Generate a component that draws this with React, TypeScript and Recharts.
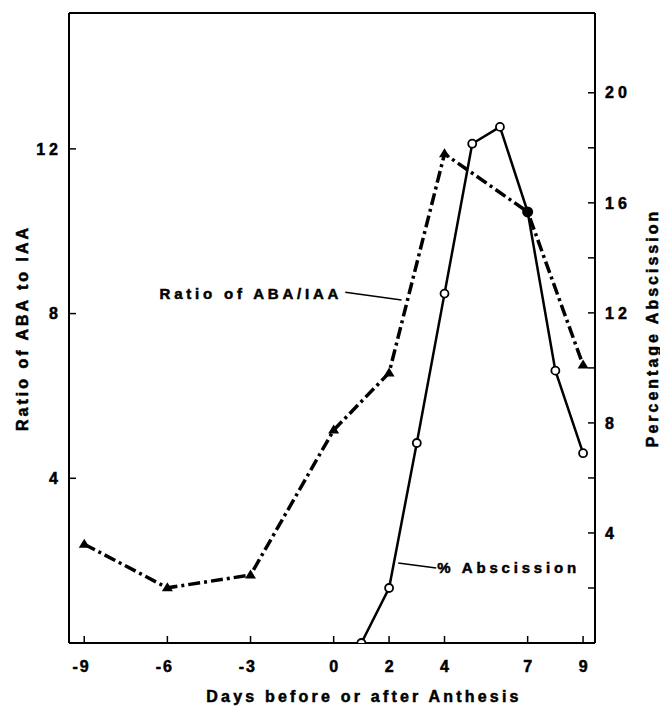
import { LineChart, Line, XAxis, YAxis, ReferenceLine, ReferenceDot, Label } from 'recharts';

// days before (-) or after (+) anthesis
const DAYS = [-9, -6, -3, 0, 1, 2, 3, 4, 5, 6, 7, 8, 9];
// ratio of ABA to IAA (left axis)
const RATIO = [2.4, 1.34, 1.65, 5.17, null, 6.56, null, 11.88, null, null, 10.47, null, 6.75];
// % abscission (right axis)
const ABSCISSION = [null, null, null, null, 0, 2.0, 7.27, 12.7, 18.15, 18.76, 15.67, 9.9, 6.9];

const X_TICKS = [-9, -6, -3, 0, 2, 4, 7, 9];
const RATIO_TICKS = [4, 8, 12];
const PCT_TICKS = [2, 4, 6, 8, 10, 12, 14, 16, 18, 20];
const RATIO_MAX = 15.3;
const PCT_MAX = 22.9;
const FILLED_DAY = 7;

// annotation anchors, in data units
const RATIO_NOTE = { x: 0.31, y: 8.5 };
const RATIO_LEADER = [{ x: 0.42, y: 8.52 }, { x: 2.45, y: 8.33 }];
const PCT_NOTE = { x: 3.74, y: 2.73 };
const PCT_LEADER = [{ x: 2.33, y: 2.91 }, { x: 3.7, y: 2.73 }];

const data = DAYS.map((day, i) => ({ day, ratio: RATIO[i], abscission: ABSCISSION[i] }));

const FONT = '"Liberation Sans", Arial, sans-serif';
const textStyle = { fill: '#000', fontFamily: FONT, fontWeight: 700, stroke: '#000', strokeWidth: 0.5 };

const TriangleDot = (props: any) => {
  const { cx, cy, payload, index } = props;
  if (cx == null || cy == null || payload?.ratio == null || payload.day === FILLED_DAY) {
    return <g key={`t-${index}`} />;
  }
  return <path key={`t-${index}`} d={`M${cx},${cy - 5.5}L${cx - 5.5},${cy + 3.5}L${cx + 5.5},${cy + 3.5}Z`} fill="#000" />;
};

const CircleDot = (props: any) => {
  const { cx, cy, payload, index } = props;
  if (cx == null || cy == null || payload?.abscission == null) return <g key={`c-${index}`} />;
  if (payload.day === FILLED_DAY) return <circle key={`c-${index}`} cx={cx} cy={cy} r={5.5} fill="#000" />;
  return <circle key={`c-${index}`} cx={cx} cy={cy} r={4} fill="#fff" stroke="#000" strokeWidth={1.8} />;
};

const XTick = ({ x, y, payload }: any) => (
  <text x={x + 6.5} y={y} dy="0.71em" textAnchor="end" fontSize={16} letterSpacing={2} {...textStyle}>
    {String(payload.value)}
  </text>
);

const vertTitle = (text: string, dxFromBox: number) => (p: any) => {
  const vb = p.viewBox;
  const x = vb.x + dxFromBox;
  const y = vb.y + vb.height / 2;
  return (
    <text x={x} y={y} transform={`rotate(-90, ${x}, ${y})`} textAnchor="middle" dominantBaseline="central"
      fontSize={16} letterSpacing={3} {...textStyle}>
      {text}
    </text>
  );
};

const xTitle = (p: any) => {
  const vb = p.viewBox;
  return (
    <text x={vb.x + vb.width / 2 + 32} y={vb.y + 53} textAnchor="middle" dominantBaseline="central"
      fontSize={16} letterSpacing={3.2} {...textStyle}>
      Days before or after Anthesis
    </text>
  );
};

const noteLabel = (text: string, anchor: 'start' | 'end') => (p: any) => {
  const vb = p.viewBox;
  const cx = vb.x + vb.width / 2;
  const cy = vb.y + vb.height / 2;
  return (
    <text x={cx} y={cy} textAnchor={anchor} dominantBaseline="central" fontSize={15} letterSpacing={3.8} {...textStyle}>
      {text}
    </text>
  );
};

export default function App() {
  return (
    <div>
      <style>{'html,body{overflow:hidden}'}</style>
      <LineChart width={652} height={701} data={data} margin={{ top: 5, right: 10, bottom: 0, left: 6 }}>
        <XAxis dataKey="day" type="number" domain={[-9.55, 9.43]} ticks={X_TICKS} interval={0} allowDataOverflow
          height={66} axisLine={{ stroke: '#000', strokeWidth: 2 }} tickLine={{ stroke: '#000', strokeWidth: 1.5 }}
          tickSize={-7} tickMargin={25} tick={<XTick />}>
          <Label content={xTitle} />
        </XAxis>
        <YAxis yAxisId="left" domain={[0, RATIO_MAX]} ticks={RATIO_TICKS} interval={0} allowDataOverflow width={55}
          axisLine={{ stroke: '#000', strokeWidth: 2 }} tickLine={{ stroke: '#000', strokeWidth: 1.5 }}
          tickSize={-7} tickMargin={14} tick={{ fontSize: 16, letterSpacing: 4, ...textStyle }}>
          <Label content={vertTitle('Ratio of ABA to IAA', 8)} />
        </YAxis>
        <YAxis yAxisId="right" orientation="right" domain={[0, PCT_MAX]} ticks={PCT_TICKS} interval={0} allowDataOverflow
          width={55} axisLine={{ stroke: '#000', strokeWidth: 2 }} tickLine={{ stroke: '#000', strokeWidth: 1.5 }}
          tickSize={-7} tickMargin={17} tickFormatter={(v: number) => (v % 4 === 0 ? String(v) : '')}
          tick={{ fontSize: 16, letterSpacing: 4, ...textStyle }}>
          <Label content={vertTitle('Percentage Abscission', 57)} />
        </YAxis>
        <ReferenceLine yAxisId="left" y={RATIO_MAX} stroke="#000" strokeWidth={2} />
        <ReferenceLine yAxisId="left" segment={RATIO_LEADER} stroke="#000" strokeWidth={1.5} />
        <ReferenceLine yAxisId="right" segment={PCT_LEADER} stroke="#000" strokeWidth={1.5} />
        <ReferenceDot yAxisId="left" x={RATIO_NOTE.x} y={RATIO_NOTE.y} r={1} fill="none" stroke="none">
          <Label content={noteLabel('Ratio of ABA/IAA', 'end')} />
        </ReferenceDot>
        <ReferenceDot yAxisId="right" x={PCT_NOTE.x} y={PCT_NOTE.y} r={1} fill="none" stroke="none">
          <Label content={noteLabel('% Abscission', 'start')} />
        </ReferenceDot>
        <Line yAxisId="left" type="linear" dataKey="ratio" stroke="#000" strokeWidth={3.5} strokeDasharray="12 4 3 4"
          connectNulls dot={TriangleDot} activeDot={false} isAnimationActive={false} />
        <Line yAxisId="right" type="linear" dataKey="abscission" stroke="#000" strokeWidth={2.5}
          connectNulls dot={CircleDot} activeDot={false} isAnimationActive={false} />
      </LineChart>
    </div>
  );
}
